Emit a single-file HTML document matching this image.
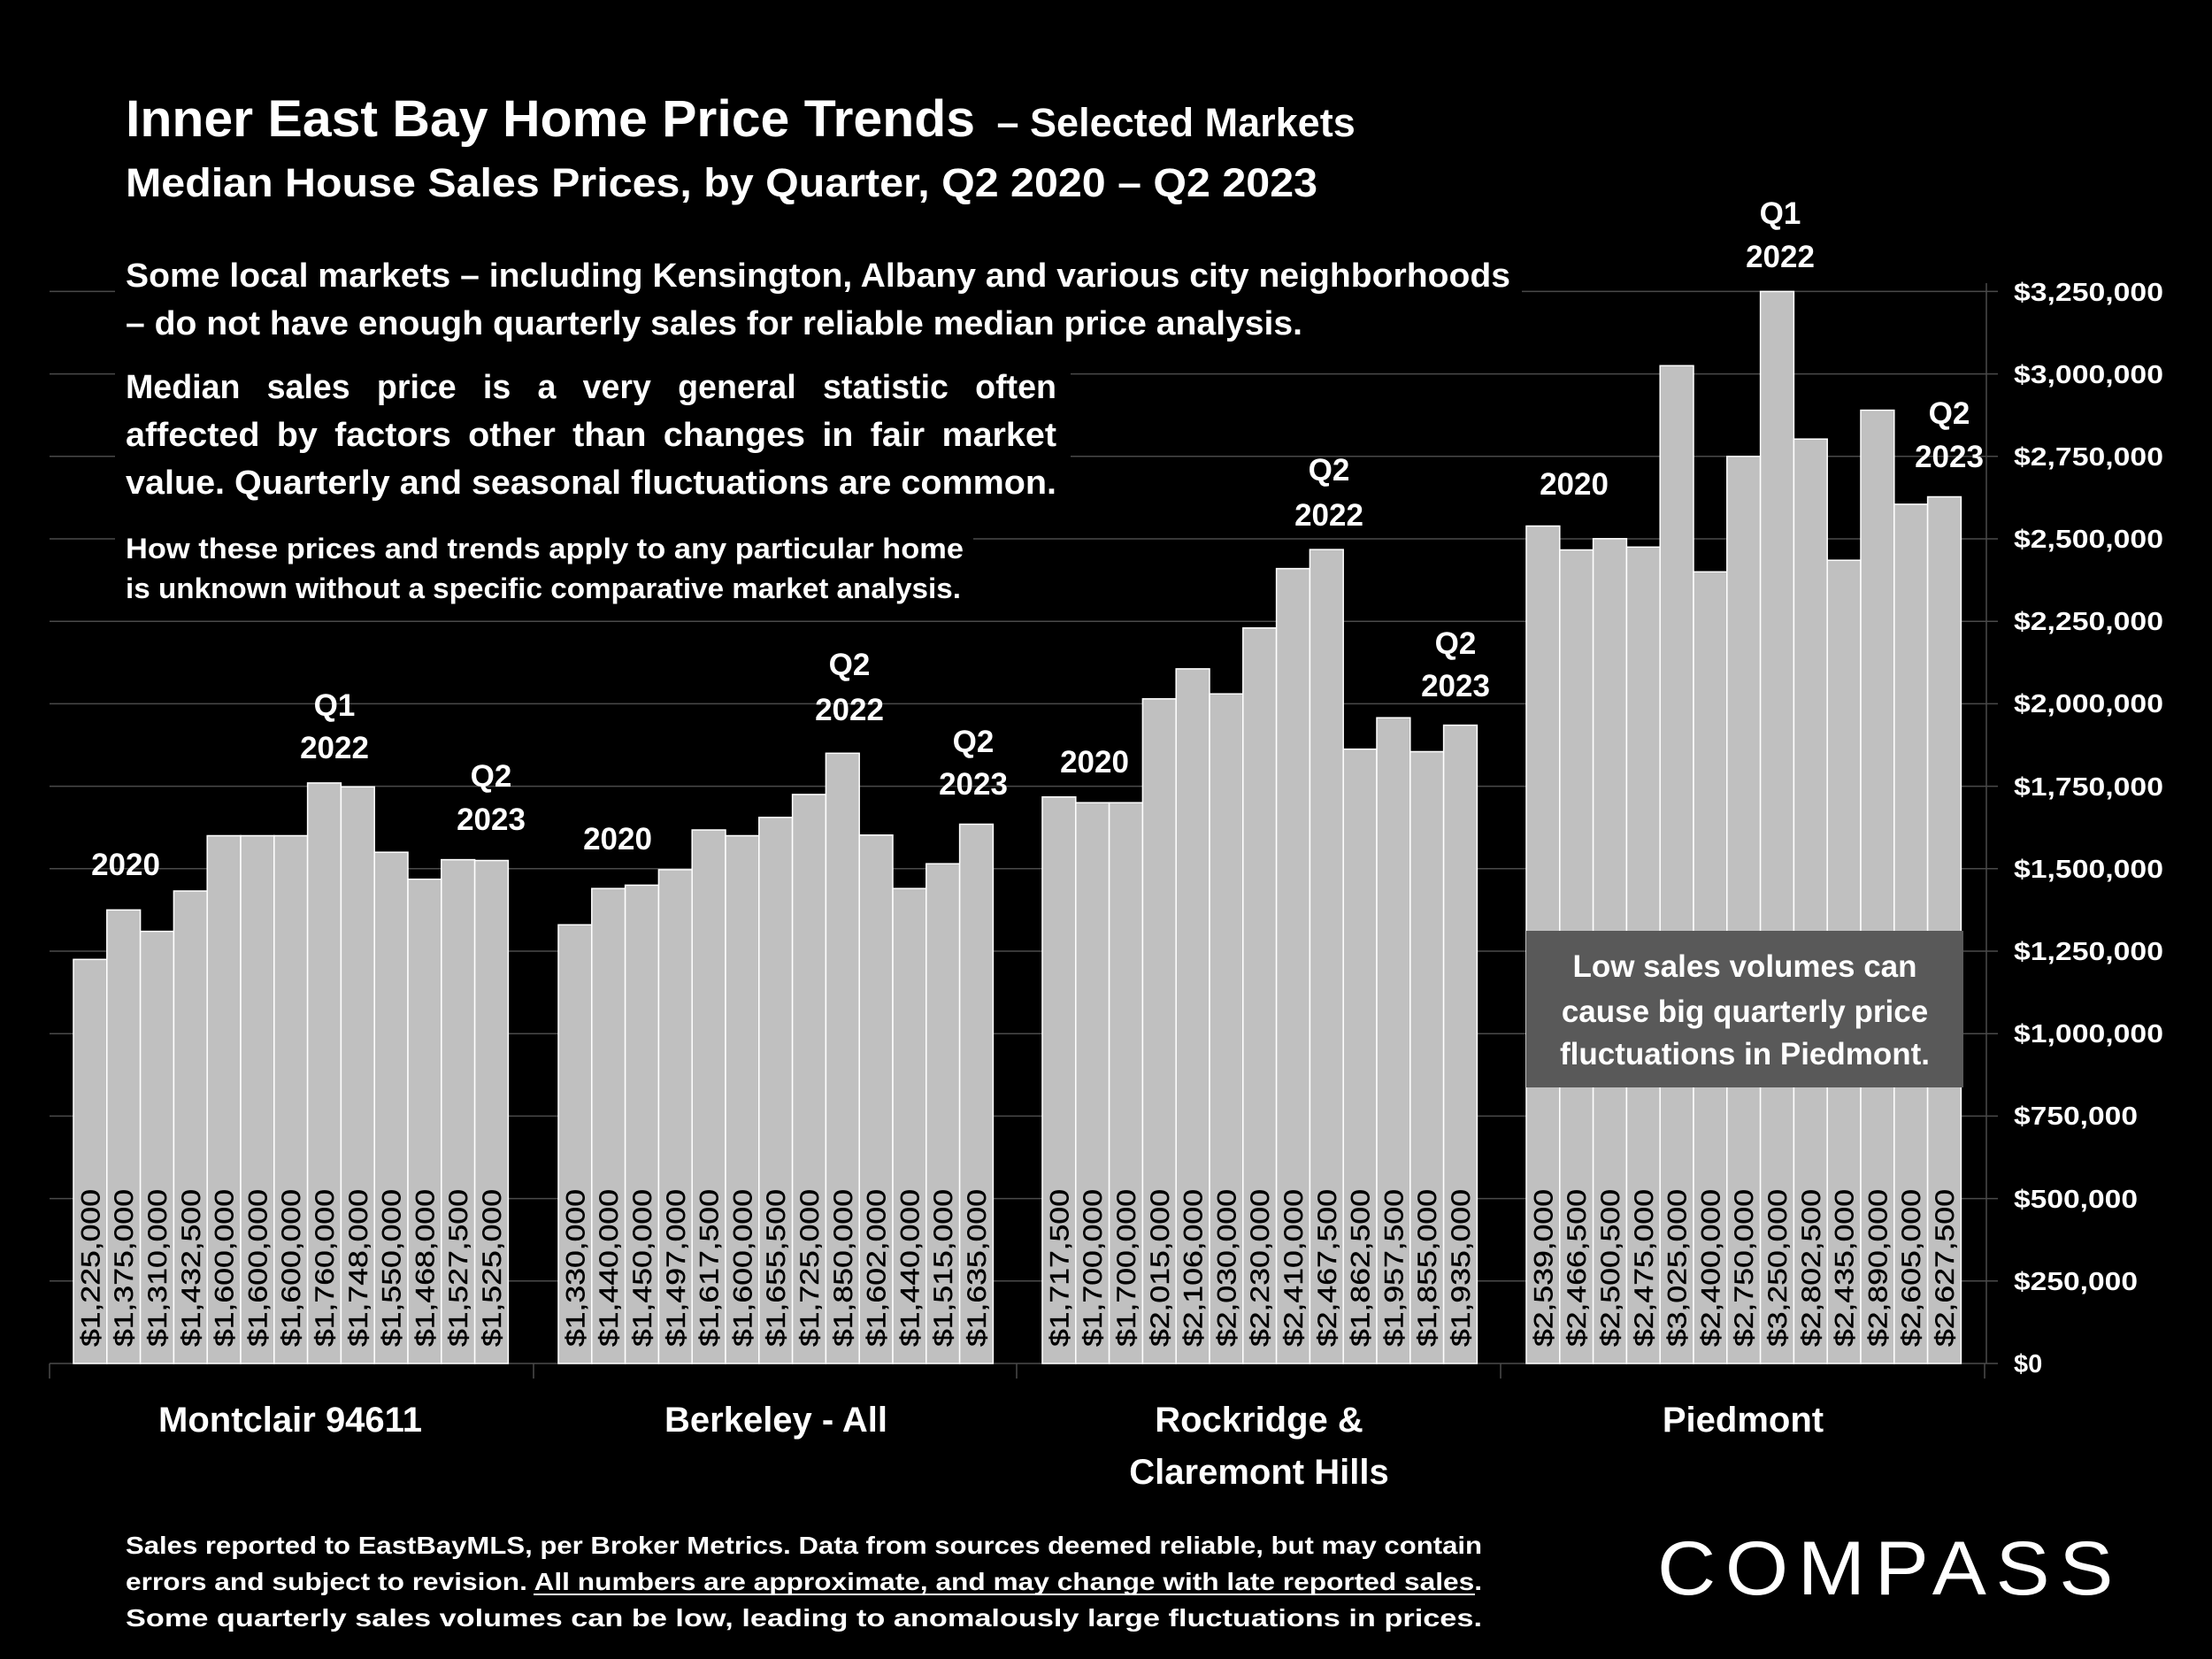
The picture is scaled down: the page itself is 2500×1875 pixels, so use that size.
<!DOCTYPE html>
<html><head><meta charset="utf-8"><style>
html,body{margin:0;padding:0;background:#000}
svg{display:block}
text{font-family:"Liberation Sans",Arial,sans-serif;fill:#fff}
.b{font-weight:bold}
.v{font-size:30px;fill:#000;font-weight:normal;stroke:#000;stroke-width:0.4}
.yl{font-size:29px;font-weight:bold}
.an{font-size:35px;font-weight:bold;text-anchor:middle}
.cat{font-size:40px;font-weight:bold;text-anchor:middle}
rect.bar{fill:#c0c0c0;stroke:#fff;stroke-width:1.5}
</style></head><body>
<svg width="2500" height="1875" viewBox="0 0 2500 1875" xmlns="http://www.w3.org/2000/svg">
<rect width="2500" height="1875" fill="#000"/>
<g stroke="#4a4a4a" stroke-width="1.5">
<line x1="56" x2="2258" y1="1447.8" y2="1447.8"/><line x1="56" x2="2258" y1="1354.6" y2="1354.6"/><line x1="56" x2="2258" y1="1261.4" y2="1261.4"/><line x1="56" x2="2258" y1="1168.2" y2="1168.2"/><line x1="56" x2="2258" y1="1075" y2="1075"/><line x1="56" x2="2258" y1="981.8" y2="981.8"/><line x1="56" x2="2258" y1="888.6" y2="888.6"/><line x1="56" x2="2258" y1="795.4" y2="795.4"/><line x1="56" x2="2258" y1="702.2" y2="702.2"/><line x1="56" x2="2258" y1="609" y2="609"/><line x1="56" x2="2258" y1="515.8" y2="515.8"/><line x1="56" x2="2258" y1="422.6" y2="422.6"/><line x1="56" x2="2258" y1="329.4" y2="329.4"/>
<line x1="2245" x2="2245" y1="320" y2="1541"/>
<line x1="2245" x2="2258" y1="1541" y2="1541"/>
<line x1="56" x2="2245" y1="1541" y2="1541"/>
<line x1="56" x2="56" y1="1541" y2="1558"/><line x1="603" x2="603" y1="1541" y2="1558"/><line x1="1149" x2="1149" y1="1541" y2="1558"/><line x1="1696" x2="1696" y1="1541" y2="1558"/><line x1="2243" x2="2243" y1="1541" y2="1558"/>
</g>
<rect x="130" y="280" width="1590" height="112" fill="#000"/>
<rect x="130" y="405" width="1080" height="170" fill="#000"/>
<rect x="130" y="595" width="970" height="95" fill="#000"/>
<g>
<rect class="bar" x="83" y="1084.3" width="37.8" height="456.7"/><rect class="bar" x="120.8" y="1028.4" width="37.8" height="512.6"/><rect class="bar" x="158.6" y="1052.6" width="37.8" height="488.4"/><rect class="bar" x="196.4" y="1007" width="37.8" height="534"/><rect class="bar" x="234.2" y="944.5" width="37.8" height="596.5"/><rect class="bar" x="272" y="944.5" width="37.8" height="596.5"/><rect class="bar" x="309.8" y="944.5" width="37.8" height="596.5"/><rect class="bar" x="347.6" y="884.9" width="37.8" height="656.1"/><rect class="bar" x="385.4" y="889.3" width="37.8" height="651.7"/><rect class="bar" x="423.2" y="963.2" width="37.8" height="577.8"/><rect class="bar" x="461" y="993.7" width="37.8" height="547.3"/><rect class="bar" x="498.8" y="971.6" width="37.8" height="569.4"/><rect class="bar" x="536.6" y="972.5" width="37.8" height="568.5"/>
<rect class="bar" x="631" y="1045.2" width="37.8" height="495.8"/><rect class="bar" x="668.8" y="1004.2" width="37.8" height="536.8"/><rect class="bar" x="706.6" y="1000.4" width="37.8" height="540.6"/><rect class="bar" x="744.4" y="982.9" width="37.8" height="558.1"/><rect class="bar" x="782.2" y="938" width="37.8" height="603"/><rect class="bar" x="820" y="944.5" width="37.8" height="596.5"/><rect class="bar" x="857.8" y="923.8" width="37.8" height="617.2"/><rect class="bar" x="895.6" y="897.9" width="37.8" height="643.1"/><rect class="bar" x="933.4" y="851.3" width="37.8" height="689.7"/><rect class="bar" x="971.2" y="943.8" width="37.8" height="597.2"/><rect class="bar" x="1009" y="1004.2" width="37.8" height="536.8"/><rect class="bar" x="1046.8" y="976.2" width="37.8" height="564.8"/><rect class="bar" x="1084.6" y="931.5" width="37.8" height="609.5"/>
<rect class="bar" x="1178" y="900.7" width="37.8" height="640.3"/><rect class="bar" x="1215.8" y="907.2" width="37.8" height="633.8"/><rect class="bar" x="1253.6" y="907.2" width="37.8" height="633.8"/><rect class="bar" x="1291.4" y="789.8" width="37.8" height="751.2"/><rect class="bar" x="1329.2" y="755.9" width="37.8" height="785.1"/><rect class="bar" x="1367" y="784.2" width="37.8" height="756.8"/><rect class="bar" x="1404.8" y="709.7" width="37.8" height="831.3"/><rect class="bar" x="1442.6" y="642.6" width="37.8" height="898.4"/><rect class="bar" x="1480.4" y="621.1" width="37.8" height="919.9"/><rect class="bar" x="1518.2" y="846.7" width="37.8" height="694.3"/><rect class="bar" x="1556" y="811.2" width="37.8" height="729.8"/><rect class="bar" x="1593.8" y="849.5" width="37.8" height="691.5"/><rect class="bar" x="1631.6" y="819.6" width="37.8" height="721.4"/>
<rect class="bar" x="1725" y="594.5" width="37.8" height="946.5"/><rect class="bar" x="1762.8" y="621.5" width="37.8" height="919.5"/><rect class="bar" x="1800.6" y="608.8" width="37.8" height="932.2"/><rect class="bar" x="1838.4" y="618.3" width="37.8" height="922.7"/><rect class="bar" x="1876.2" y="413.3" width="37.8" height="1127.7"/><rect class="bar" x="1914" y="646.3" width="37.8" height="894.7"/><rect class="bar" x="1951.8" y="515.8" width="37.8" height="1025.2"/><rect class="bar" x="1989.6" y="329.4" width="37.8" height="1211.6"/><rect class="bar" x="2027.4" y="496.2" width="37.8" height="1044.8"/><rect class="bar" x="2065.2" y="633.2" width="37.8" height="907.8"/><rect class="bar" x="2103" y="463.6" width="37.8" height="1077.4"/><rect class="bar" x="2140.8" y="569.9" width="37.8" height="971.1"/><rect class="bar" x="2178.6" y="561.5" width="37.8" height="979.5"/>
</g>
<g>
<text class="v" transform="translate(112.4,1522) rotate(-90)" textLength="178" lengthAdjust="spacingAndGlyphs">$1,225,000</text>
<text class="v" transform="translate(150.2,1522) rotate(-90)" textLength="178" lengthAdjust="spacingAndGlyphs">$1,375,000</text>
<text class="v" transform="translate(188,1522) rotate(-90)" textLength="178" lengthAdjust="spacingAndGlyphs">$1,310,000</text>
<text class="v" transform="translate(225.8,1522) rotate(-90)" textLength="178" lengthAdjust="spacingAndGlyphs">$1,432,500</text>
<text class="v" transform="translate(263.6,1522) rotate(-90)" textLength="178" lengthAdjust="spacingAndGlyphs">$1,600,000</text>
<text class="v" transform="translate(301.4,1522) rotate(-90)" textLength="178" lengthAdjust="spacingAndGlyphs">$1,600,000</text>
<text class="v" transform="translate(339.2,1522) rotate(-90)" textLength="178" lengthAdjust="spacingAndGlyphs">$1,600,000</text>
<text class="v" transform="translate(377,1522) rotate(-90)" textLength="178" lengthAdjust="spacingAndGlyphs">$1,760,000</text>
<text class="v" transform="translate(414.8,1522) rotate(-90)" textLength="178" lengthAdjust="spacingAndGlyphs">$1,748,000</text>
<text class="v" transform="translate(452.6,1522) rotate(-90)" textLength="178" lengthAdjust="spacingAndGlyphs">$1,550,000</text>
<text class="v" transform="translate(490.4,1522) rotate(-90)" textLength="178" lengthAdjust="spacingAndGlyphs">$1,468,000</text>
<text class="v" transform="translate(528.2,1522) rotate(-90)" textLength="178" lengthAdjust="spacingAndGlyphs">$1,527,500</text>
<text class="v" transform="translate(566,1522) rotate(-90)" textLength="178" lengthAdjust="spacingAndGlyphs">$1,525,000</text>
<text class="v" transform="translate(660.4,1522) rotate(-90)" textLength="178" lengthAdjust="spacingAndGlyphs">$1,330,000</text>
<text class="v" transform="translate(698.2,1522) rotate(-90)" textLength="178" lengthAdjust="spacingAndGlyphs">$1,440,000</text>
<text class="v" transform="translate(736,1522) rotate(-90)" textLength="178" lengthAdjust="spacingAndGlyphs">$1,450,000</text>
<text class="v" transform="translate(773.8,1522) rotate(-90)" textLength="178" lengthAdjust="spacingAndGlyphs">$1,497,000</text>
<text class="v" transform="translate(811.6,1522) rotate(-90)" textLength="178" lengthAdjust="spacingAndGlyphs">$1,617,500</text>
<text class="v" transform="translate(849.4,1522) rotate(-90)" textLength="178" lengthAdjust="spacingAndGlyphs">$1,600,000</text>
<text class="v" transform="translate(887.2,1522) rotate(-90)" textLength="178" lengthAdjust="spacingAndGlyphs">$1,655,500</text>
<text class="v" transform="translate(925,1522) rotate(-90)" textLength="178" lengthAdjust="spacingAndGlyphs">$1,725,000</text>
<text class="v" transform="translate(962.8,1522) rotate(-90)" textLength="178" lengthAdjust="spacingAndGlyphs">$1,850,000</text>
<text class="v" transform="translate(1000.6,1522) rotate(-90)" textLength="178" lengthAdjust="spacingAndGlyphs">$1,602,000</text>
<text class="v" transform="translate(1038.4,1522) rotate(-90)" textLength="178" lengthAdjust="spacingAndGlyphs">$1,440,000</text>
<text class="v" transform="translate(1076.2,1522) rotate(-90)" textLength="178" lengthAdjust="spacingAndGlyphs">$1,515,000</text>
<text class="v" transform="translate(1114,1522) rotate(-90)" textLength="178" lengthAdjust="spacingAndGlyphs">$1,635,000</text>
<text class="v" transform="translate(1207.4,1522) rotate(-90)" textLength="178" lengthAdjust="spacingAndGlyphs">$1,717,500</text>
<text class="v" transform="translate(1245.2,1522) rotate(-90)" textLength="178" lengthAdjust="spacingAndGlyphs">$1,700,000</text>
<text class="v" transform="translate(1283,1522) rotate(-90)" textLength="178" lengthAdjust="spacingAndGlyphs">$1,700,000</text>
<text class="v" transform="translate(1320.8,1522) rotate(-90)" textLength="178" lengthAdjust="spacingAndGlyphs">$2,015,000</text>
<text class="v" transform="translate(1358.6,1522) rotate(-90)" textLength="178" lengthAdjust="spacingAndGlyphs">$2,106,000</text>
<text class="v" transform="translate(1396.4,1522) rotate(-90)" textLength="178" lengthAdjust="spacingAndGlyphs">$2,030,000</text>
<text class="v" transform="translate(1434.2,1522) rotate(-90)" textLength="178" lengthAdjust="spacingAndGlyphs">$2,230,000</text>
<text class="v" transform="translate(1472,1522) rotate(-90)" textLength="178" lengthAdjust="spacingAndGlyphs">$2,410,000</text>
<text class="v" transform="translate(1509.8,1522) rotate(-90)" textLength="178" lengthAdjust="spacingAndGlyphs">$2,467,500</text>
<text class="v" transform="translate(1547.6,1522) rotate(-90)" textLength="178" lengthAdjust="spacingAndGlyphs">$1,862,500</text>
<text class="v" transform="translate(1585.4,1522) rotate(-90)" textLength="178" lengthAdjust="spacingAndGlyphs">$1,957,500</text>
<text class="v" transform="translate(1623.2,1522) rotate(-90)" textLength="178" lengthAdjust="spacingAndGlyphs">$1,855,000</text>
<text class="v" transform="translate(1661,1522) rotate(-90)" textLength="178" lengthAdjust="spacingAndGlyphs">$1,935,000</text>
<text class="v" transform="translate(1754.4,1522) rotate(-90)" textLength="178" lengthAdjust="spacingAndGlyphs">$2,539,000</text>
<text class="v" transform="translate(1792.2,1522) rotate(-90)" textLength="178" lengthAdjust="spacingAndGlyphs">$2,466,500</text>
<text class="v" transform="translate(1830,1522) rotate(-90)" textLength="178" lengthAdjust="spacingAndGlyphs">$2,500,500</text>
<text class="v" transform="translate(1867.8,1522) rotate(-90)" textLength="178" lengthAdjust="spacingAndGlyphs">$2,475,000</text>
<text class="v" transform="translate(1905.6,1522) rotate(-90)" textLength="178" lengthAdjust="spacingAndGlyphs">$3,025,000</text>
<text class="v" transform="translate(1943.4,1522) rotate(-90)" textLength="178" lengthAdjust="spacingAndGlyphs">$2,400,000</text>
<text class="v" transform="translate(1981.2,1522) rotate(-90)" textLength="178" lengthAdjust="spacingAndGlyphs">$2,750,000</text>
<text class="v" transform="translate(2019,1522) rotate(-90)" textLength="178" lengthAdjust="spacingAndGlyphs">$3,250,000</text>
<text class="v" transform="translate(2056.8,1522) rotate(-90)" textLength="178" lengthAdjust="spacingAndGlyphs">$2,802,500</text>
<text class="v" transform="translate(2094.6,1522) rotate(-90)" textLength="178" lengthAdjust="spacingAndGlyphs">$2,435,000</text>
<text class="v" transform="translate(2132.4,1522) rotate(-90)" textLength="178" lengthAdjust="spacingAndGlyphs">$2,890,000</text>
<text class="v" transform="translate(2170.2,1522) rotate(-90)" textLength="178" lengthAdjust="spacingAndGlyphs">$2,605,000</text>
<text class="v" transform="translate(2208,1522) rotate(-90)" textLength="178" lengthAdjust="spacingAndGlyphs">$2,627,500</text>
</g>
<g>
<text class="yl" x="2276" y="1551">$0</text>
<text class="yl" x="2276" y="1458" textLength="140" lengthAdjust="spacingAndGlyphs">$250,000</text>
<text class="yl" x="2276" y="1365" textLength="140" lengthAdjust="spacingAndGlyphs">$500,000</text>
<text class="yl" x="2276" y="1271" textLength="140" lengthAdjust="spacingAndGlyphs">$750,000</text>
<text class="yl" x="2276" y="1178" textLength="169" lengthAdjust="spacingAndGlyphs">$1,000,000</text>
<text class="yl" x="2276" y="1085" textLength="169" lengthAdjust="spacingAndGlyphs">$1,250,000</text>
<text class="yl" x="2276" y="992" textLength="169" lengthAdjust="spacingAndGlyphs">$1,500,000</text>
<text class="yl" x="2276" y="899" textLength="169" lengthAdjust="spacingAndGlyphs">$1,750,000</text>
<text class="yl" x="2276" y="805" textLength="169" lengthAdjust="spacingAndGlyphs">$2,000,000</text>
<text class="yl" x="2276" y="712" textLength="169" lengthAdjust="spacingAndGlyphs">$2,250,000</text>
<text class="yl" x="2276" y="619" textLength="169" lengthAdjust="spacingAndGlyphs">$2,500,000</text>
<text class="yl" x="2276" y="526" textLength="169" lengthAdjust="spacingAndGlyphs">$2,750,000</text>
<text class="yl" x="2276" y="433" textLength="169" lengthAdjust="spacingAndGlyphs">$3,000,000</text>
<text class="yl" x="2276" y="340" textLength="169" lengthAdjust="spacingAndGlyphs">$3,250,000</text>
</g>
<g>
<text class="an" x="142" y="989">2020</text>
<text class="an" x="378" y="809">Q1</text><text class="an" x="378" y="857">2022</text>
<text class="an" x="555" y="889">Q2</text><text class="an" x="555" y="938">2023</text>
<text class="an" x="698" y="960">2020</text>
<text class="an" x="960" y="763">Q2</text><text class="an" x="960" y="814">2022</text>
<text class="an" x="1100" y="850">Q2</text><text class="an" x="1100" y="898">2023</text>
<text class="an" x="1237" y="873">2020</text>
<text class="an" x="1502" y="543">Q2</text><text class="an" x="1502" y="594">2022</text>
<text class="an" x="1645" y="739">Q2</text><text class="an" x="1645" y="787">2023</text>
<text class="an" x="1779" y="559">2020</text>
<text class="an" x="2012" y="253">Q1</text><text class="an" x="2012" y="302">2022</text>
<text class="an" x="2203" y="479">Q2</text><text class="an" x="2203" y="528">2023</text>
</g>
<text class="cat" x="328" y="1618">Montclair  94611</text>
<text class="cat" x="877" y="1618">Berkeley - All</text>
<text class="cat" x="1423" y="1618">Rockridge &amp;</text>
<text class="cat" x="1423" y="1677">Claremont Hills</text>
<text class="cat" x="1970" y="1618">Piedmont</text>
<rect x="1725" y="1052" width="494" height="177" fill="#595959"/>
<text class="b" x="1972" y="1104" font-size="35" text-anchor="middle">Low sales volumes can</text>
<text class="b" x="1972" y="1155" font-size="35" text-anchor="middle">cause big quarterly price</text>
<text class="b" x="1972" y="1203" font-size="35" text-anchor="middle">fluctuations in Piedmont.</text>
<text x="142" y="154" class="b" font-size="58"><tspan textLength="960" lengthAdjust="spacingAndGlyphs">Inner East Bay Home Price Trends</tspan><tspan font-size="45" dx="12"> – Selected Markets</tspan></text>
<text x="142" y="222" class="b" font-size="45" textLength="1347" lengthAdjust="spacingAndGlyphs">Median House Sales Prices, by Quarter, Q2 2020 – Q2 2023</text>
<text x="142" y="324" class="b" font-size="38" textLength="1565" lengthAdjust="spacingAndGlyphs">Some local markets – including Kensington, Albany and various city neighborhoods</text>
<text x="142" y="378" class="b" font-size="38" textLength="1330" lengthAdjust="spacingAndGlyphs">– do not have enough quarterly sales for reliable median price analysis.</text>
<text x="142" y="450" class="b" font-size="38" word-spacing="20" textLength="1052" lengthAdjust="spacingAndGlyphs">Median sales price is a very general statistic often</text>
<text x="142" y="504" class="b" font-size="38" word-spacing="8" textLength="1052" lengthAdjust="spacingAndGlyphs">affected by factors other than changes in fair market</text>
<text x="142" y="558" class="b" font-size="38" textLength="1052" lengthAdjust="spacingAndGlyphs">value. Quarterly and seasonal fluctuations are common.</text>
<text x="142" y="631" class="b" font-size="32" textLength="947" lengthAdjust="spacingAndGlyphs">How these prices and trends apply to any particular home</text>
<text x="142" y="676" class="b" font-size="32" textLength="944" lengthAdjust="spacingAndGlyphs">is unknown without a specific comparative market analysis.</text>
<text x="142" y="1756" class="b" font-size="28" textLength="1533" lengthAdjust="spacingAndGlyphs">Sales reported to EastBayMLS, per Broker Metrics. Data from sources deemed reliable, but may contain</text>
<text x="142" y="1797" class="b" font-size="28" textLength="1533" lengthAdjust="spacingAndGlyphs">errors and subject to revision. All numbers are approximate, and may change with late reported sales.</text>
<line x1="603" x2="1667" y1="1802" y2="1802" stroke="#fff" stroke-width="2"/>
<text x="142" y="1838" class="b" font-size="28" textLength="1533" lengthAdjust="spacingAndGlyphs">Some quarterly sales volumes can be low, leading to anomalously large fluctuations in prices.</text>
<text x="1873" y="1802" font-size="86" textLength="526" lengthAdjust="spacingAndGlyphs" style="letter-spacing:10px">COMPASS</text>
</svg>
</body></html>
